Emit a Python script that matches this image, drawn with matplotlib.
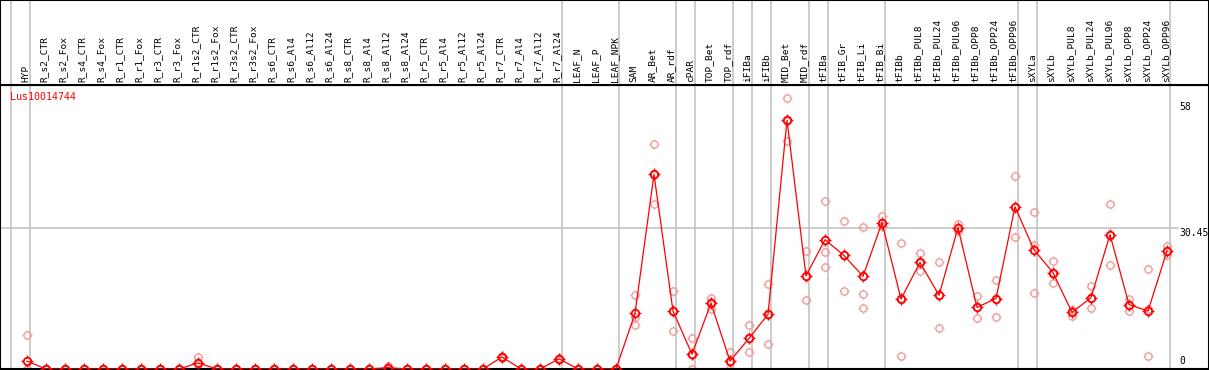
import matplotlib
matplotlib.use("Agg")
import matplotlib.pyplot as plt
import matplotlib.path as mpath
import numpy as np

# rótulos das amostras
labels = [
    "HYP",
    "R_s2_CTR", "R_s2_Fox", "R_s4_CTR", "R_s4_Fox", "R_r1_CTR", "R_r1_Fox",
    "R_r3_CTR", "R_r3_Fox", "R_r1s2_CTR", "R_r1s2_Fox", "R_r3s2_CTR", "R_r3s2_Fox",
    "R_s6_CTR", "R_s6_Al4", "R_s6_Al12", "R_s6_Al24",
    "R_s8_CTR", "R_s8_Al4", "R_s8_Al12", "R_s8_Al24",
    "R_r5_CTR", "R_r5_Al4", "R_r5_Al12", "R_r5_Al24",
    "R_r7_CTR", "R_r7_Al4", "R_r7_Al12", "R_r7_Al24",
    "LEAF_N", "LEAF_P", "LEAF_NPK",
    "SAM", "AR_Bet", "AR_rdf", "cPAR", "TOP_Bet", "TOP_rdf", "iFIBa", "iFIBb",
    "MID_Bet", "MID_rdf", "tFIBa", "tFIB_Gr", "tFIB_Li", "tFIB_Bi", "tFIBb",
    "tFIBb_PUL8", "tFIBb_PUL24", "tFIBb_PUL96", "tFIBb_OPP8", "tFIBb_OPP24", "tFIBb_OPP96",
    "sXYLa", "sXYLb",
    "sXYLb_PUL8", "sXYLb_PUL24", "sXYLb_PUL96", "sXYLb_OPP8", "sXYLb_OPP24", "sXYLb_OPP96",
]

# média (linha)
mean_vals = [
    1.7,
    0, 0, 0, 0, 0, 0, 0, 0, 1.3, 0, 0, 0,
    0, 0, 0, 0, 0, 0, 0.3, 0, 0, 0, 0, 0, 2.6, 0, 0, 2.2,
    0, 0, 0,
    12.0, 42.0, 12.5, 3.2, 14.2, 1.7, 6.6, 11.8,
    53.7, 20.1, 27.9, 24.5, 20.0, 31.6, 15.1,
    23.0, 15.9, 30.5, 13.3, 15.2, 35.0,
    25.7, 20.8,
    12.2, 15.4, 29.0, 13.9, 12.5, 25.5,
]

# réplicas (círculos claros)
rep_a = [
    7.3,
    0, 0, 0, 0, 0, 0, 0, 0, 2.6, 0, 0, 0,
    0, 0, 0, 0, 0, 0, 0.6, 0, 0, 0, 0, 0, 2.9, 0, 0, 2.4,
    0, 0, 0,
    16.0, 48.6, 16.8, 6.6, 15.3, 3.6, 9.6, 18.3,
    58.5, 25.5, 36.3, 32.0, 30.7, 33.1, 27.2,
    25.1, 23.0, 31.2, 15.7, 19.1, 41.6,
    33.9, 23.4,
    12.8, 17.8, 35.6, 15.1, 21.6, 26.5,
]
rep_b = [
    0,
    0, 0, 0, 0, 0, 0, 0, 0, 1.3, 0, 0, 0,
    0, 0, 0, 0, 0, 0, 0.3, 0, 0, 0, 0, 0, 2.6, 0, 0, 2.2,
    0, 0, 0,
    11.2, 41.8, 12.5, 3.0, 14.4, 1.5, 6.6, 11.6,
    53.5, 20.0, 25.3, 24.6, 16.1, 30.8, 15.3,
    22.8, 15.9, 30.5, 13.3, 15.2, 35.0,
    26.8, 20.5,
    12.2, 15.4, 29.0, 13.9, 12.9, 25.5,
]
rep_c = [
    0,
    0, 0, 0, 0, 0, 0, 0, 0, 0, 0, 0, 0,
    0, 0, 0, 0, 0, 0, 0, 0, 0, 0, 0, 0, 2.3, 0, 0, 2.0,
    0, 0, 0,
    9.4, 35.6, 8.1, 0, 12.9, 0, 3.6, 5.5,
    49.1, 14.8, 22.1, 16.9, 13.1, 30.9, 2.8,
    21.2, 8.8, 29.8, 10.9, 11.3, 28.5,
    16.3, 18.5,
    11.5, 13.1, 22.5, 12.6, 2.9, 24.6,
]

# último índice de cada grupo (linhas cinzas)
group_ends = [-1, 0, 28, 31, 34, 35, 37, 38, 39, 41, 42, 45, 52, 53, 60]

gene = "Lus10014744"
y_max = 58
y_mid = 30.45

x = np.arange(len(labels))

W, H = 1209, 370
fig = plt.figure(figsize=(W / 100, H / 100), dpi=100)
font = "DejaVu Sans Mono"

xlim = (-27 / 19, (W - 27) / 19)
top_val = (369 - 85) / 4.635

ax = fig.add_axes([0, 1 / H, 1, 284 / H])
hx = fig.add_axes([0, 285 / H, 1, 85 / H])

# traços curtos em volta do círculo
ticks = mpath.Path(
    [(0, 1), (0, 1.5), (0, -1), (0, -1.5), (1, 0), (1.5, 0), (-1, 0), (-1.5, 0)],
    [mpath.Path.MOVETO, mpath.Path.LINETO] * 4,
)


def circles(vals, color, d, mew, z, line=False):
    ax.plot(x, vals, ls="-" if line else "none", color=color, lw=0.9,
            marker="o", ms=d, mfc="none", mec=color, mew=mew, zorder=z)
    ax.plot(x, vals, ls="none", marker=ticks, ms=d * 1.5, mec=color,
            mew=mew * 0.8, zorder=z)


for g in group_ends:
    for a in (ax, hx):
        a.axvline(g + 0.18, color="#c4c4c4", lw=1.2, zorder=1)

ax.axhline(y_mid, xmin=0, xmax=1178 / W, color="#c4c4c4", lw=1.2, zorder=1)

for rep in (rep_a, rep_b, rep_c):
    circles(rep, "#f09a9a", 5.2, 1.0, 2)
circles(mean_vals, "#ff0000", 5.4, 1.3, 3, line=True)

ax.set_xlim(*xlim)
ax.set_ylim(0, top_val)
ax.set_xticks([])
ax.set_yticks([])

tr = ax.get_yaxis_transform()
ax.text(1179 / W, y_max - 0.45, str(y_max), transform=tr, ha="left", va="top",
        fontsize=7, family=font)
ax.text(1179 / W, y_mid - 0.1, str(y_mid), transform=tr, ha="left", va="top",
        fontsize=7, family=font)
ax.text(1179 / W, 0.6, "0", transform=tr, ha="left", va="bottom",
        fontsize=7, family=font)
ax.text(10 / W, 1 - 12 / 284, gene, transform=ax.transAxes, ha="left",
        va="center", color="#ff0000", fontsize=7.2, family=font)

hx.set_xlim(*xlim)
hx.set_ylim(85, 0)
hx.set_xticks([])
hx.set_yticks([])
for i, lab in enumerate(labels):
    hx.text(i - 0.08, 82.5, lab, rotation=90, ha="center", va="bottom",
            fontsize=6.8, family=font)

for a in (ax, hx):
    for s in a.spines.values():
        s.set_linewidth(1.5)
        s.set_color("black")

fig.savefig("out.png", dpi=100)
